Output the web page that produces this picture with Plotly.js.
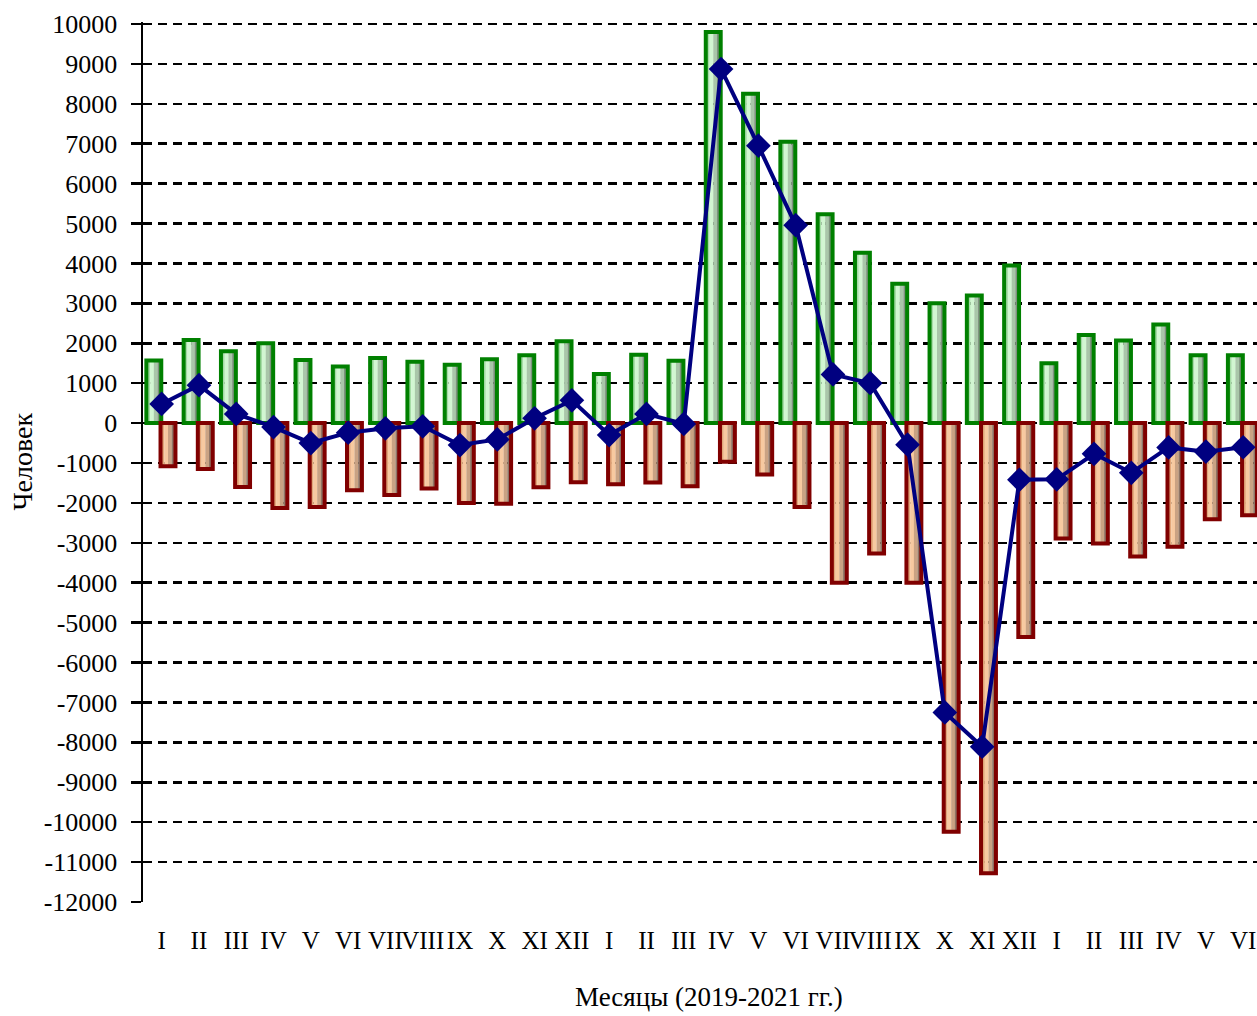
<!DOCTYPE html>
<html>
<head>
<meta charset="utf-8">
<script src="https://cdn.plot.ly/plotly-3.0.1.min.js"></script>
<style>
html,body{margin:0;padding:0;background:#fff;overflow:hidden;}
#chart{width:1257px;height:1016px;}
</style>
</head>
<body>
<div id="chart"></div>
<script>
// Categories: months 2019 (I-XII), 2020 (I-XII), 2021 (I-VI)
const monthLabels = ["I","II","III","IV","V","VI","VII","VIII","IX","X","XI","XII",
                     "I","II","III","IV","V","VI","VII","VIII","IX","X","XI","XII",
                     "I","II","III","IV","V","VI"];
const positions = monthLabels.map((_, i) => i);

// Positive series (green bars)
const arrivals = [1570, 2080, 1800, 2000, 1580, 1420, 1630, 1540, 1460, 1600, 1700, 2050,
                  1230, 1710, 1560, 9800, 8250, 7050, 5230, 4270, 3490, 3000, 3200, 3950,
                  1500, 2210, 2070, 2470, 1700, 1700];
// Negative series (red bars)
const departures = [-1080, -1150, -1600, -2130, -2100, -1680, -1800, -1640, -2000, -2020, -1610, -1480,
                    -1530, -1490, -1580, -970, -1290, -2100, -4000, -3270, -4000, -10240, -11280, -5360,
                    -2890, -3020, -3340, -3100, -2410, -2310];
// Net (line with diamonds)
const netChange = [480, 950, 230, -100, -500, -240, -130, -80, -550, -410, 120, 570,
                   -300, 230, -20, 8870, 6950, 4960, 1220, 1000, -540, -7250, -8110, -1420,
                   -1410, -770, -1245, -610, -715, -605];

const tickValues = [10000,9000,8000,7000,6000,5000,4000,3000,2000,1000,0,-1000,-2000,-3000,-4000,-5000,-6000,-7000,-8000,-9000,-10000,-11000,-12000];

const FONT = "'Liberation Serif', 'Times New Roman', serif";
const BW = 0.40;          // bar width in category units
const gOff = -0.41;       // green bar offset
const rOff = -0.03;       // red bar offset
const greenStrips = ["#a6dca6", "#d2f6d2", "#a9c6a9", "#7d927d"];
const redStrips   = ["#e2a77a", "#f7c9a0", "#c9a283", "#8f7565"];

const traces = [];
function addStrips(vals, off, colors) {
  const n = colors.length;
  const w = BW / n;
  colors.forEach((c, k) => {
    traces.push({
      type: "bar", x: positions, y: vals,
      offset: off + k * w, width: w + 0.004,
      marker: {color: c, line: {width: 0}},
      hoverinfo: "skip", showlegend: false
    });
  });
}
addStrips(arrivals, gOff, greenStrips);
addStrips(departures, rOff, redStrips);

traces.push({
  type: "bar", x: positions, y: arrivals, offset: gOff, width: BW,
  marker: {color: "rgba(0,0,0,0)", line: {color: "#008000", width: 4}},
  showlegend: false, name: "Прибыло"
});
traces.push({
  type: "bar", x: positions, y: departures, offset: rOff, width: BW,
  marker: {color: "rgba(0,0,0,0)", line: {color: "#800000", width: 4}},
  showlegend: false, name: "Выбыло"
});
traces.push({
  type: "scatter", mode: "lines+markers", x: positions, y: netChange,
  line: {color: "#000080", width: 4},
  marker: {symbol: "diamond", size: 19, color: "#000080"},
  showlegend: false, name: "Прирост", cliponaxis: false
});

const layout = {
  width: 1257, height: 1016,
  margin: {l: 143, r: 0, t: 22, b: 114},
  paper_bgcolor: "#fff", plot_bgcolor: "#fff",
  barmode: "overlay",
  font: {family: FONT, size: 24, color: "#000"},
  xaxis: {
    type: "linear",
    range: [-0.5, 29.37],
    tickmode: "array", tickvals: positions, ticktext: monthLabels,
    showgrid: false, zeroline: false, showline: false,
    ticks: "", ticklabelstandoff: 21, tickangle: 0,
    tickfont: {family: FONT, size: 25, color: "#000"}
  },
  yaxis: {
    range: [-12000, 10050],
    tickmode: "array", tickvals: tickValues,
    ticktext: tickValues.map(v => String(v)),
    showgrid: true, gridcolor: "#000", gridwidth: 2.5, griddash: "9px,6px",
    zeroline: false,
    showline: true, linecolor: "#000", linewidth: 2.5,
    ticks: "outside", ticklen: 10, tickwidth: 2.5, tickcolor: "#000",
    ticklabelstandoff: 8,
    tickfont: {family: FONT, size: 26, color: "#000"}
  },
  annotations: [
    {text: "Месяцы (2019-2021 гг.)", xref: "paper", yref: "paper",
     x: 0.508, y: -0.108, xanchor: "center", yanchor: "middle", showarrow: false,
     font: {family: FONT, size: 27, color: "#000"}},
    {text: "Человек", xref: "paper", yref: "paper",
     x: -0.109, y: 0.5, xanchor: "center", yanchor: "middle", showarrow: false, textangle: -90,
     font: {family: FONT, size: 28, color: "#000"}}
  ]
};

Plotly.newPlot("chart", traces, layout, {staticPlot: true, displayModeBar: false});
</script>
</body>
</html>
